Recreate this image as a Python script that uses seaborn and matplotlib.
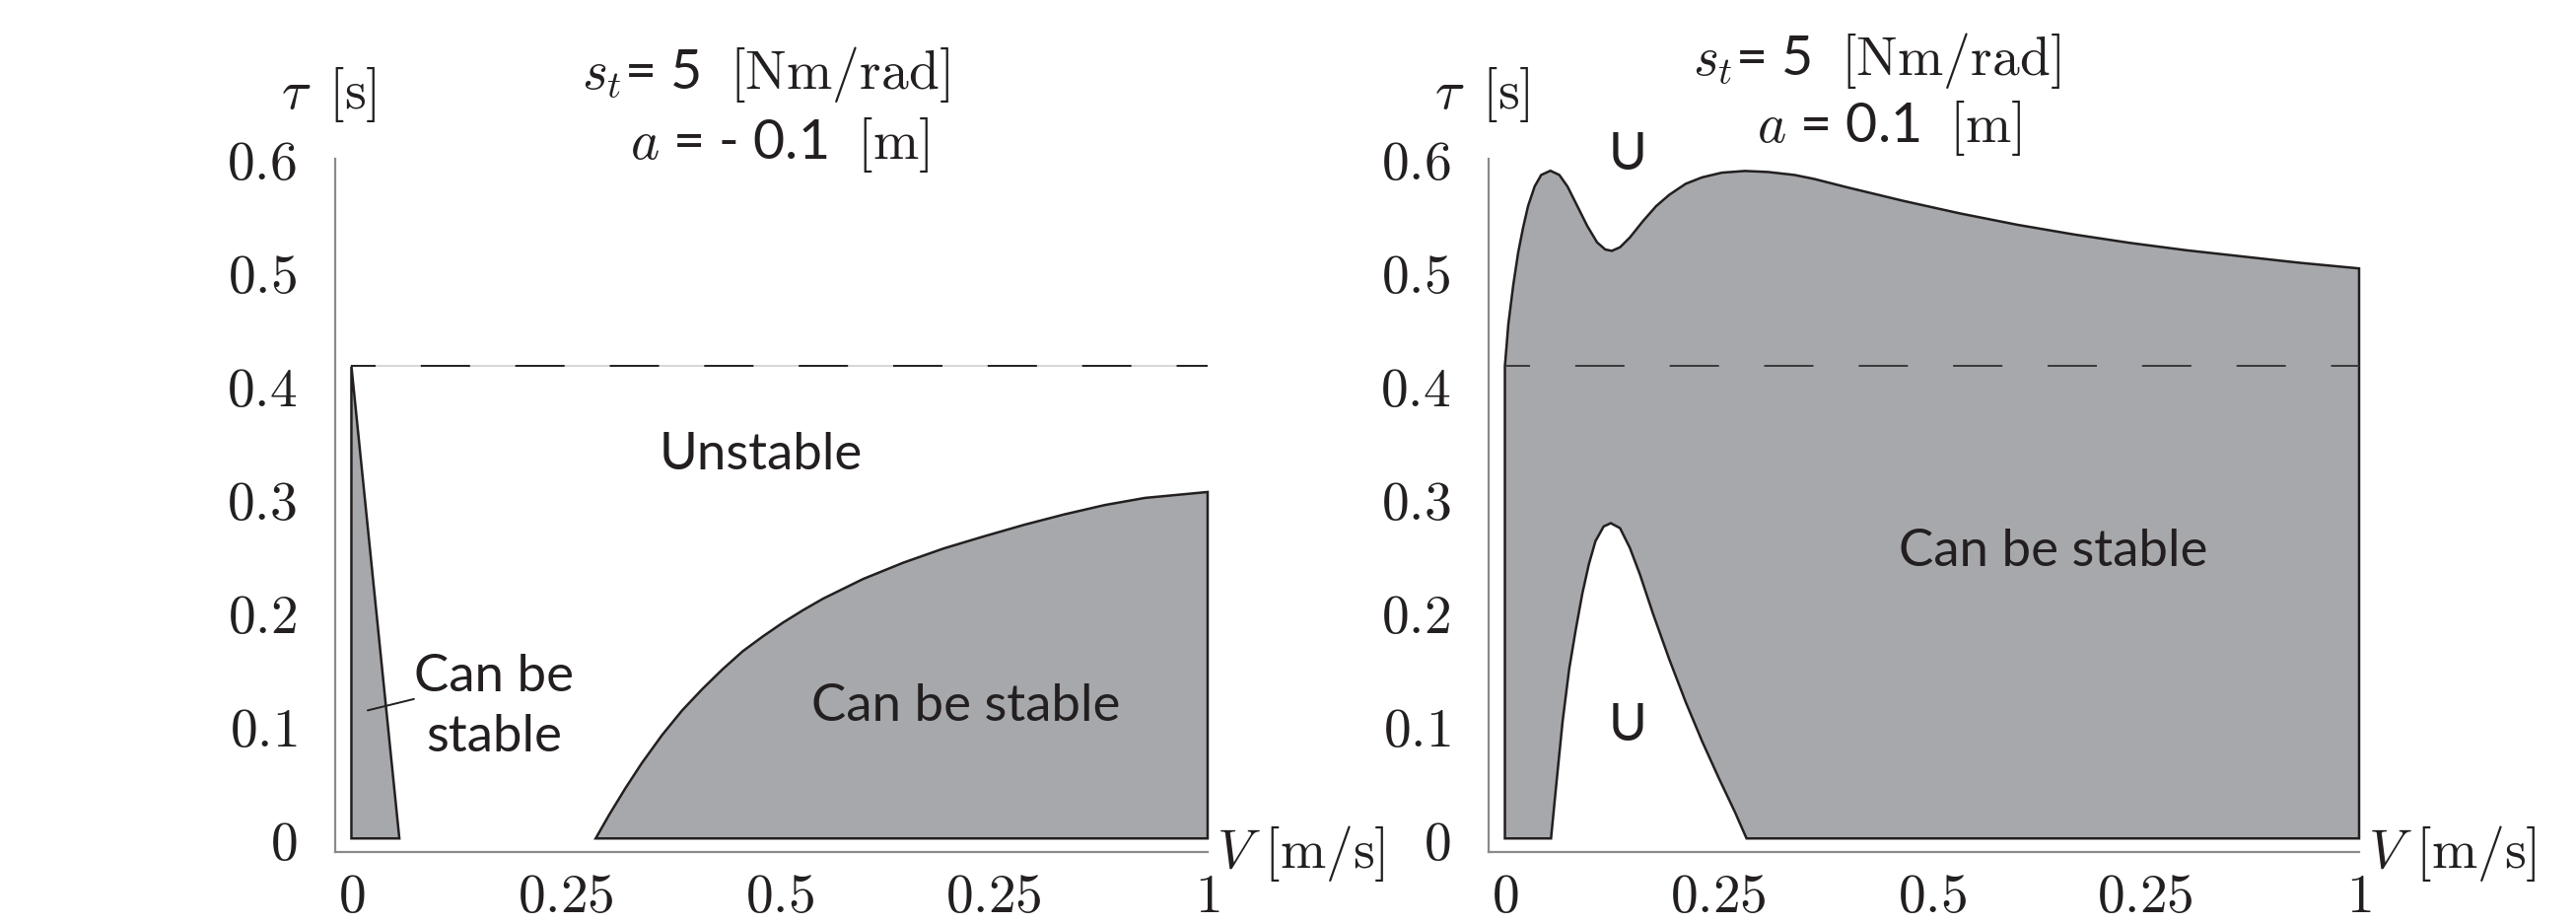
import numpy as np
import matplotlib
matplotlib.use("Agg")
import matplotlib.pyplot as plt
import seaborn as sns

# ---- data ----
tau_crit = 0.4167

# left panel (a = -0.1)
left_tri_v = [0.0, 0.0, 0.056]
left_tri_tau = [0.0, 0.4167, 0.0]
left_curve_v = [0.2853, 0.3017, 0.3205, 0.3393, 0.3628, 0.3863, 0.4098, 0.4334, 0.4569, 0.4804,
                0.5039, 0.5274, 0.5509, 0.5978, 0.6448, 0.6918, 0.7389, 0.7859, 0.8329, 0.8799,
                0.9269, 1.0]
left_curve_tau = [0.0, 0.0217, 0.0449, 0.0666, 0.0912, 0.113, 0.1318, 0.1492, 0.1651, 0.1782,
                  0.1904, 0.2014, 0.2116, 0.229, 0.2434, 0.2559, 0.2666, 0.2768, 0.286, 0.2942,
                  0.3005, 0.3057]

# right panel (a = 0.1)
right_top_v = [0.0, 0.004, 0.0098, 0.0156, 0.0213, 0.0271, 0.0348, 0.0425, 0.0533, 0.0637,
               0.0733, 0.0848, 0.0964, 0.1079, 0.1175, 0.1252, 0.1348, 0.1463, 0.1618, 0.1771,
               0.1925, 0.2117, 0.231, 0.254, 0.281, 0.3079, 0.3387, 0.3618, 0.401, 0.467,
               0.533, 0.600, 0.666, 0.732, 0.798, 0.864, 0.930, 1.0]
right_top_tau = [0.4167, 0.4536, 0.4884, 0.5173, 0.539, 0.558, 0.5753, 0.5855, 0.5892, 0.5855,
                 0.5753, 0.558, 0.5405, 0.526, 0.5197, 0.5185, 0.5217, 0.5303, 0.5449, 0.558,
                 0.568, 0.5777, 0.5834, 0.5875, 0.589, 0.5881, 0.5855, 0.582, 0.5745, 0.5625,
                 0.5515, 0.5415, 0.533, 0.5255, 0.519, 0.5135, 0.508, 0.503]
hole_v = [0.054, 0.0598, 0.0675, 0.0752, 0.0829, 0.0906, 0.0983, 0.106, 0.1156, 0.124, 0.1348,
          0.1463, 0.1579, 0.1733, 0.1925, 0.2117, 0.231, 0.2502, 0.2694, 0.2829]
hole_tau = [0.0, 0.0449, 0.1029, 0.1492, 0.184, 0.2159, 0.242, 0.2623, 0.2753, 0.2782, 0.2738,
            0.2564, 0.2333, 0.1985, 0.1579, 0.1203, 0.0855, 0.0536, 0.0231, 0.0]

xticks = [0, 0.25, 0.5, 0.75, 1]
xtick_labels = ["0", "0.25", "0.5", "0.25", "1"]
yticks = [0, 0.1, 0.2, 0.3, 0.4, 0.5, 0.6]
ytick_labels = ["0", "0.1", "0.2", "0.3", "0.4", "0.5", "0.6"]

# ---- style ----
sns.set_theme(style="white")
plt.rcParams["mathtext.fontset"] = "cm"
plt.rcParams["font.family"] = ["Lato", "DejaVu Sans"]

ink = "#231f20"
fill_col = "#a7a8ab"
spine_col = "#8a8a8a"
lw_edge = 1.8
fs_tick = 40
fs_txt = 38
dash = (18 / 1.4, (36 / 1.4, 33 / 1.4))

fig = plt.figure(figsize=(26.13, 9.37), dpi=100)
ax1 = fig.add_axes([0.1301, 0.0768, 0.3387, 0.7506])
ax2 = fig.add_axes([0.5779, 0.0768, 0.3379, 0.7506])


def style_axes(ax):
    ax.set_xlim(-0.019, 1.0)
    ax.set_ylim(-0.012, 0.6)
    for s in ["top", "right"]:
        ax.spines[s].set_visible(False)
    for s in ["left", "bottom"]:
        ax.spines[s].set_color(spine_col)
        ax.spines[s].set_linewidth(1.6)
    ax.set_xticks(xticks)
    ax.set_xticklabels(["$%s$" % t for t in xtick_labels], fontsize=fs_tick)
    ax.set_yticks(yticks)
    ax.set_yticklabels(["$%s$" % t for t in ytick_labels], fontsize=fs_tick)
    ax.tick_params(axis="both", direction="in", length=6, width=1.0, color=spine_col,
                   labelcolor=ink)
    ax.tick_params(axis="x", pad=14)
    ax.tick_params(axis="y", pad=28)
    ax.set_xlabel("")
    ax.set_ylabel("")
    ax.text(-0.027, 0.657, r"$\tau\ \,[\mathrm{s}]$", fontsize=fs_tick, ha="center",
            va="center", color=ink)
    ax.text(1.01, -0.012, r"$V\,\,[\mathrm{m/s}]$", fontsize=fs_tick, ha="left", va="center",
            color=ink, clip_on=False)


# ---- left panel ----
ax = ax1
ax.fill(left_tri_v, left_tri_tau, facecolor=fill_col, edgecolor=ink, lw=lw_edge, zorder=2)
ax.fill(left_curve_v + [1.0], left_curve_tau + [0.0], facecolor=fill_col, edgecolor=ink,
        lw=lw_edge, zorder=2, clip_on=False)
sns.lineplot(x=[0, 1], y=[tau_crit, tau_crit], ax=ax, color="#d0d0d0", lw=1.2, zorder=3)
sns.lineplot(x=[0, 1], y=[tau_crit, tau_crit], ax=ax, color=ink, lw=1.4, zorder=4,
             linestyle=dash)
ax.plot([0.019, 0.073], [0.113, 0.123], color=ink, lw=1.4, zorder=5)
ax.text(0.167, 0.117, "Can be\nstable", fontsize=fs_txt, ha="center", va="center",
        color=ink, linespacing=1.37)
ax.text(0.478, 0.339, "Unstable", fontsize=fs_txt, ha="center", va="center", color=ink)
ax.text(0.718, 0.117, "Can be stable", fontsize=fs_txt, ha="center", va="center", color=ink)
ax.text(0.484, 0.675, r"$s_t$= 5  $[\mathrm{Nm/rad}]$", fontsize=fs_tick,
        ha="center", va="center", color=ink)
ax.text(0.50, 0.613, r"$a$ = - 0.1  $[\mathrm{m}]$", fontsize=fs_tick,
        ha="center", va="center", color=ink)
style_axes(ax)

# ---- right panel ----
ax = ax2
poly_v = np.concatenate([[0.0], right_top_v, [1.0, hole_v[-1]], hole_v[::-1], [0.0]])
poly_tau = np.concatenate([[0.0], right_top_tau, [0.0, 0.0], hole_tau[::-1], [0.0]])
ax.fill(poly_v, poly_tau, facecolor=fill_col, edgecolor=ink, lw=lw_edge, zorder=2,
        clip_on=False)
sns.lineplot(x=[0, 1], y=[tau_crit, tau_crit], ax=ax, color="#3a3a3a", lw=1.4, zorder=4,
             linestyle=dash)
ax.text(0.144, 0.604, "U", fontsize=fs_txt, ha="center", va="center", color=ink)
ax.text(0.144, 0.10, "U", fontsize=fs_txt, ha="center", va="center", color=ink)
ax.text(0.642, 0.254, "Can be stable", fontsize=fs_txt, ha="center", va="center", color=ink)
ax.text(0.435, 0.687, r"$s_t$= 5  $[\mathrm{Nm/rad}]$", fontsize=fs_tick,
        ha="center", va="center", color=ink)
ax.text(0.45, 0.6275, r"$a$ = 0.1  $[\mathrm{m}]$", fontsize=fs_tick,
        ha="center", va="center", color=ink)
style_axes(ax)

fig.savefig("out.png", dpi=100)
